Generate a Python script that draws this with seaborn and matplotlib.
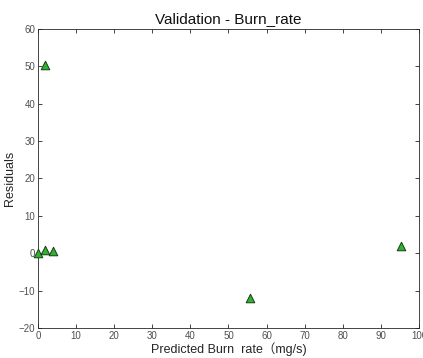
import numpy as np
import pandas as pd
import seaborn as sns
import matplotlib.pyplot as plt

# predicted burn rate vs residual
predicted = [1.8, 0.0, 1.8, 3.9, 55.7, 95.3]
residuals = [50.5, 0.0, 0.8, 0.5, -12.0, 2.0]
x_ticks = [0, 10, 20, 30, 40, 50, 60, 70, 80, 90, 100]
y_ticks = [-20, -10, 0, 10, 20, 30, 40, 50, 60]

df = pd.DataFrame({"predicted": predicted, "residual": residuals})

sns.set_style("white")
plt.rcParams['font.family'] = ['Liberation Sans', 'Noto Sans CJK SC', 'DejaVu Sans']

fig = plt.figure(figsize=(4.23, 3.58), dpi=100)
ax = fig.add_axes([0.0898, 0.0838, 0.9007, 0.8352])

sns.scatterplot(data=df, x="predicted", y="residual", ax=ax, marker="^",
                s=38, color="#2db42d", edgecolor="#1a3a1a", linewidth=0.7,
                zorder=3, clip_on=False)

ax.set_xlim(0, 100)
ax.set_ylim(-20, 60)
ax.set_xticks(x_ticks)
ax.set_yticks(y_ticks)
ax.tick_params(direction="in", length=3, width=0.6, colors="#262626",
               labelsize=7, labelcolor="#505050", top=True, right=True,
               bottom=True, left=True, pad=2)
for sp in ax.spines.values():
    sp.set_color("#262626")
    sp.set_linewidth(0.6)

ax.set_title("Validation - Burn_rate", fontsize=11, pad=4, color="#111111")
ax.set_xlabel("Predicted Burn  rate（mg/s)", fontsize=9, labelpad=1,
              color="#262626")
ax.set_ylabel("Residuals", fontsize=9, labelpad=2, color="#262626")

fig.savefig("out.png", dpi=100)
